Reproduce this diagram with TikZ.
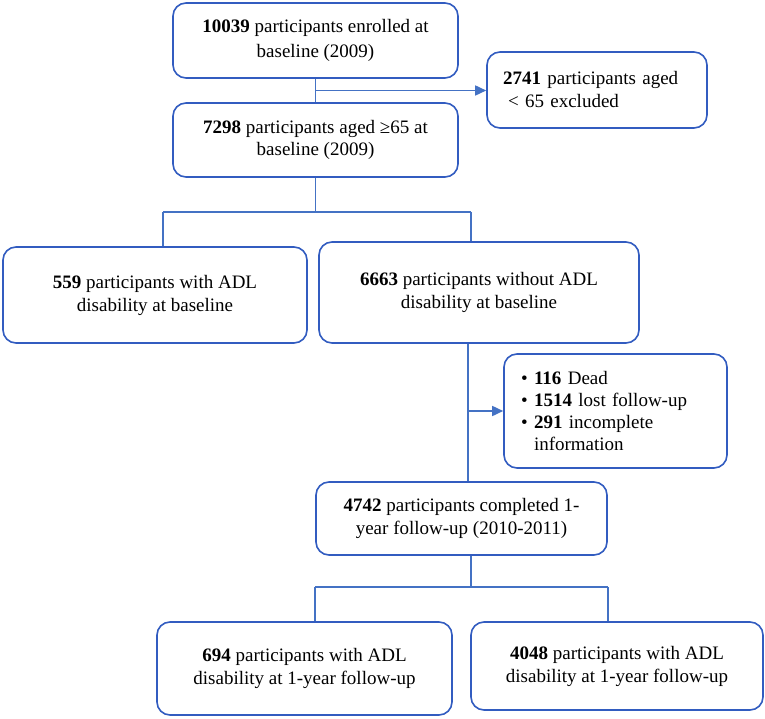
\documentclass[tikz,border=0pt]{standalone}
\usepackage{fontspec}
\setmainfont{Liberation Serif}
\usetikzlibrary{arrows.meta,calc}
\definecolor{lineblue}{RGB}{68,114,196}
\definecolor{boxblue}{RGB}{50,92,192}
\begin{document}
\begin{tikzpicture}[x=1pt,y=-1pt,
  box/.style={draw=boxblue, line width=1.6pt, rounded corners=13pt, fill=white,
    align=center, inner sep=0pt, font=\fontsize{19}{23}\selectfont},
  conn/.style={draw=lineblue, line width=1.6pt},
  arr/.style={conn, -{Triangle[length=11pt,width=10pt]}}]
\useasboundingbox (0,0) rectangle (765,719);

% boxes
\node[box, minimum width=285pt, minimum height=75pt, font=\fontsize{19}{25}\selectfont] (b1) at (315.5,40.5)
  {\textbf{10039} participants enrolled at\\baseline (2009)};
\node[box, minimum width=285pt, minimum height=74pt, font=\fontsize{19}{21.5}\selectfont] (b2) at (315.5,140)
  {\textbf{7298} participants aged ≥65 at\\baseline (2009)};
\node[box, minimum width=220pt, minimum height=76pt, align=left, text width=188pt, inner xsep=16pt] (exc) at (597,90)
  {\textbf{2741} participants aged\\\hspace*{5pt}< 65 excluded};
\node[box, minimum width=304pt, minimum height=96pt] (b559) at (155,295)
  {\textbf{559} participants with ADL\\disability at baseline};
\node[box, minimum width=320pt, minimum height=101pt] (b6663) at (479,292.5)
  {\textbf{6663} participants without ADL\\disability at baseline};
\node[box, minimum width=223pt, minimum height=114pt, align=left, text width=189pt, inner xsep=17pt,
  font=\fontsize{19}{22.3}\selectfont] (bul) at (615.5,411)
  {\makebox[13pt][l]{•}\textbf{116} Dead\\
   \makebox[13pt][l]{•}\textbf{1514} lost follow-up\\
   \makebox[13pt][l]{•}\textbf{291} incomplete\\
   \hspace*{13pt}information};
\node[box, minimum width=291pt, minimum height=73pt] (b4742) at (461.5,518.5)
  {\textbf{4742} participants completed 1-\\year follow-up (2010-2011)};
\node[box, minimum width=295pt, minimum height=93pt] (b694) at (304.5,668.5)
  {\textbf{694} participants with ADL\\disability at 1-year follow-up};
\node[box, minimum width=292pt, minimum height=88pt] (b4048) at (617,666)
  {\textbf{4048} participants with ADL\\disability at 1-year follow-up};

% junction coordinates
\coordinate (j1) at ($(b1.south)!0.5!(b2.north)$);
\coordinate (h1L) at (163,212);
\coordinate (h1R) at (471,212);
\coordinate (v2) at (468,0);
\coordinate (h2L) at (315,587);
\coordinate (h2R) at (608,587);
\coordinate (v3) at (471,0);

% connectors
\draw[conn] (b1.south) -- (b2.north);
\draw[arr] (j1) -- (j1 -| exc.west);

\draw[conn] (b2.south) -- (b2.south |- h1L);
\draw[conn] (h1L) -- (h1R);
\draw[conn] (h1L) -- (h1L |- b559.north);
\draw[conn] (h1R) -- (h1R |- b6663.north);

\draw[conn] (v2 |- b6663.south) -- (v2 |- b4742.north);
\draw[arr] (v2 |- bul.west) -- (bul.west);

\draw[conn] (v3 |- b4742.south) -- (v3 |- h2L);
\draw[conn] (h2L) -- (h2R);
\draw[conn] (h2L) -- (h2L |- b694.north);
\draw[conn] (h2R) -- (h2R |- b4048.north);
\end{tikzpicture}
\end{document}
